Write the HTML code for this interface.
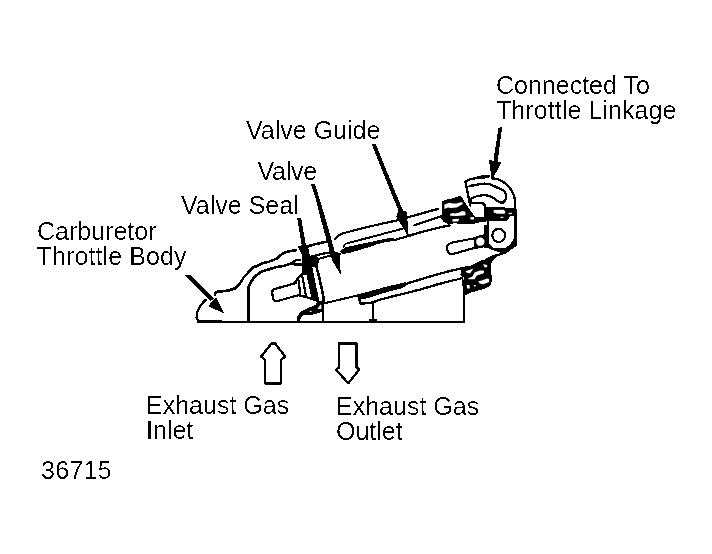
<!DOCTYPE html>
<html><head><meta charset="utf-8"><style>
html,body{margin:0;padding:0;background:#fff;width:712px;height:554px;overflow:hidden}
#w{position:absolute;left:0;top:0;width:712px;height:554px;filter:url(#bin)}
.t{position:absolute;font-family:"Liberation Sans",sans-serif;font-size:25px;line-height:normal;color:#000;white-space:nowrap}
#w>svg{position:absolute;left:0;top:0}
#tx{position:absolute;left:0;top:0;width:712px;height:554px;filter:url(#bint)}
</style></head><body>
<svg width="0" height="0" style="position:absolute"><filter id="bin" x="0" y="0" width="100%" height="100%"><feComponentTransfer><feFuncA type="discrete" tableValues="0 1"/></feComponentTransfer></filter><filter id="bint" x="0" y="0" width="100%" height="100%"><feComponentTransfer><feFuncA type="discrete" tableValues="0 0 0 1 1"/></feComponentTransfer></filter></svg>
<div id="w">
<svg width="712" height="554" viewBox="0 0 712 554">
<g fill="none" stroke="#000" stroke-width="2.3" stroke-linecap="round" stroke-linejoin="round">
<!-- base line -->
<path d="M197.5,322 L464.5,322" stroke-width="2" stroke-linecap="butt"/>
<path d="M198.5,320.5 L222,320.5" stroke-width="1.2" stroke-linecap="butt"/>
<!-- left bump -->
<path d="M206,299.6 L203,302.5 L199.8,306.5 L197.8,310.5 L196.9,313.4 L196.6,317.4 L197.4,319.8 L199,321" stroke-width="2.3"/>
<!-- outer housing curve -->
<path d="M214.9,294.8 L215.7,292.3 L218,291.6 L223.3,291.3 L229.3,290.3 L235.2,288.3 L238,285.8 L241.1,282 L243.6,277.3 L247.9,272.9 L252.2,267.9 L257.3,265.7 L262,263.5 L267.6,262.1 L273.2,260.1 L277.2,258.4 L280,255.6 L283.3,253.1 L287.3,251.7 L292.9,250.6 L295.7,250.3" stroke-width="2.6"/>
<!-- inner housing curve + leg -->
<path d="M248.4,321 L248.4,287.5 L248.6,286.7 L250.8,282.3 L253.7,278 L256.5,275.1 L260.9,272.2 L262,271.6 L267.6,269.7 L273.2,268 L278.9,266.6 L284.5,265.7 L289,264.3 L292.3,262.9" stroke-width="2.6"/>
<path d="M292.3,262.9 L295.7,260.1 L300.2,259.8" stroke-width="2.4"/>
<path d="M292.3,263.3 L295.7,265 L302,264.6 L304,265.2" stroke-width="2.8"/>
<!-- carburetor arrow -->
<polygon points="184.9,275.2 191.1,275.2 214.2,298.5 210.3,301" fill="#000" stroke="none"/>
<polygon points="208.1,306.2 216.2,297 224.2,313.6" fill="#000" stroke="none"/>
<!-- stem rounded rect -->
<path d="M296,283 L275,288.8 C272.5,289.5 271.8,291 272.2,293.5 L273,298.5 C273.5,300.8 275,301.6 277.5,301 L299,295"/>
<!-- collar taper from stem to seal -->
<path d="M293,284 L303.8,272"/>
<path d="M298.6,280.5 L300.3,294.5" stroke-width="2.2"/>
<path d="M299,295.3 L305.6,296.8 L317.5,301"/>
<path d="M302.3,276.5 L305.8,294.8" stroke-width="2.2"/>
<!-- seal main band -->
<polygon points="302.5,256 310.5,256 312.2,266.5 319.2,300.8 311.5,298.8 306.6,275.3 303.6,275 302,270" fill="#000" stroke="none"/>
<!-- valve face edge with rounded corner -->
<path d="M324.3,301 L319.4,278 L316.5,267 C316.2,265 316.5,263 317.8,261" stroke-width="2.6"/>
<polygon points="310.5,256 318.5,257 317.5,262 316,266.5 312.2,266.8" fill="#000" stroke="none"/>
<!-- small top lines left of valve arrow -->
<path d="M308,246.3 L316,244 L327,241.5" stroke-width="2.6"/>
<path d="M309.6,257.2 L323,253.5 L330,252.8" stroke-width="2.3"/>
<path d="M310.2,261.1 L330,255.8" stroke-width="2"/>
<!-- body top edge line1 -->
<path d="M335.3,239 C336.5,236.5 339,234.5 343.4,233.2 L360.3,228.7 L377.1,224.8 L395,220.9 L438,208.9" stroke-width="2.2"/>
<!-- line2 thin -->
<path d="M343.6,247 C344,245.3 344.5,244 346,243.6 L351.8,242 L368.7,237.7 L384.7,233.4 L395,230.8 L402.6,228.8" stroke-width="2"/>
<path d="M414.4,225.3 L442.2,216.1" stroke-width="2.1"/>
<!-- line3 thick band -->
<polygon points="340.5,250.5 345.5,247.3 385.5,238.8 393,237.8 395.5,239.5 395,240.6 385.5,242.2 377.1,244.3 368.7,247.2 360.3,249.7 351.8,252.3 343.4,254 340.3,252.6" fill="#000" stroke="none"/>
<path d="M394,240.3 L409.4,235.6 L423.7,231.4 L440.5,227.2 L449.8,225.3" stroke-width="2.2"/>
<!-- body bottom edge -->
<path d="M323.5,303.5 L359.5,295" stroke-width="2.2"/>
<polygon points="359.6,294 370.4,290.9 385.9,286.7 401.3,283.2 406,282.1 405.6,285.8 402.9,288 389.7,291.2 378.2,294.7 367.4,298.2 362.5,299.5 359.6,297" fill="#000" stroke="none"/>
<path d="M404,284.6 L409.8,282.6 L429.5,276.6 L449.2,271.2 L463.9,267.8 L470,267" stroke-width="2.3"/>
<path d="M484,261.2 L489,258.3 L494.1,256.1 L499.2,254.6 L505,252.5" stroke-width="2.4"/>
<polygon points="484,245.4 488,242.5 491.6,246.1 494.1,247.9 505.7,247.9 510.3,244.1 512.3,241 514.3,238 516.2,238 516.2,246.6 512.3,248.8 508.3,251.8 504.2,253.4 498.2,251.8 491.6,249.8 488,247.8 484,247.8" fill="#000" stroke="none"/>
<!-- lower thin line -->
<path d="M359.3,296.5 L359.9,303.4 L363,303.6 L372.8,302.4 L378.2,300.2 L393.6,296.2 L400,294.6 L419.7,289.6 L439.3,283.9 L459,279 L463,277.2" stroke-width="2.3"/>
<!-- legs -->
<path d="M323,300 L323.1,321"/>
<path d="M373.2,302.5 L373.2,321"/>
<path d="M370,320 L376,320" stroke-width="2"/>
<path d="M463.6,272 L464,321"/>
<!-- port curve under seal -->
<polygon points="297,321.3 297.5,316 299.6,313 302.5,310.5 306.6,308.6 310.7,307 315.2,305 317,302.5 318.5,301 322.5,301.5 322.5,312 319.3,312.8 311.7,315 304.1,315 301.6,316.8 300.5,319 300.3,321.3" fill="#000" stroke="none"/>
<polygon points="317.4,309 320.6,304.6 321.3,304.9 321.3,309" fill="#fff" stroke="none"/>
<rect x="309.7" y="310.9" width="2" height="1" fill="#fff" stroke="none"/>
<!-- valve seal arrow -->
<polygon points="297.2,218.2 301.1,218.2 305.6,243.2 306,247 301.8,247 301.4,243.2" fill="#000" stroke="none"/>
<polygon points="297.9,246.2 305.6,244.5 308,247 310,257 302.8,257" fill="#000" stroke="none"/>
<!-- valve arrow -->
<polygon points="311,184 314.8,184 319.9,200 326.4,221.7 332.4,243.3 334.8,252 341.8,253.3 339.9,256 340.4,269 340.8,274.8 336.4,267.4 332.8,261.6 330.7,256.6 327.5,243.3 321.5,221.7 316.1,200" fill="#000" stroke="none"/>
<!-- valve guide arrow -->
<polygon points="371.8,144.2 375.8,144.2 393.6,188 403,210.6 406.8,211.7 408.6,235.6 407.6,235.6 396.3,216.4 398.5,210.6 389.1,188" fill="#000" stroke="none"/>
<!-- connected to arrow -->
<path d="M498.4,128.5 Q500,126.6 502,127.5 L497.6,161.5 L493.4,160.5 Z" fill="#000" stroke="none"/>
<polygon points="489,160 501.6,162.5 492.8,178.3 491.6,178.3" fill="#000" stroke="none"/>
<!-- bracket top piece -->
<path d="M465,182 L468,179.8 L480,177.2 L487.5,176.6" stroke-width="2.2"/>
<path d="M479,177.8 L488,176.3" stroke-width="3.5"/>
<path d="M491.6,178.3 C495,178.3 499,179 503.3,181.9 C506,183.5 509,187 511.4,190 C513,192.5 514.5,196 515.3,201 L515.5,246"/>
<path d="M465.5,182 L469.2,200.5 L470.2,205.5"/>
<path d="M469.5,186 L483.5,183.7 C486,183.5 488,183.6 489.8,184.2 C493,185.5 495,186.5 497.9,187.8 C501,189.2 503,190 504.2,191.2 C506,193 506.5,196 505.5,199.5 C504.5,202 502.5,203 500.5,202.5 C498.5,201.8 496,200 494.3,198.5 C492.5,197.2 490.5,196.2 488,195.6 C486,195 484,195 481.5,195.3 C478,195.7 474,196.8 471.7,198.2 C470,199.5 470,202 472.6,203.1 L481.7,203.1 C483.5,203.3 484.5,204.5 485,206 L485.5,216"/>
<!-- collar band on bracket -->
<polygon points="484,207 493,207 494,206.8 503,206.8 505,207.5 516,207.8 516.2,215.8 510,216 508.5,219 507,221.3 489,221.3 486,220.3 484,218" fill="#000" stroke="none"/>
<polygon points="493.7,210 503.5,209.8 505.5,211.8 504.5,213.7 497,213.7 495,212.8 493.7,212.8" fill="#fff" stroke="none"/>
<rect x="508.7" y="212.8" width="3.2" height="1.3" fill="#fff" stroke="none"/>
<rect x="500.4" y="216.8" width="3" height="1.1" fill="#fff" stroke="none"/>
<polygon points="473,216.6 486,217.2 486,221.5 474,223.2" fill="#000" stroke="none"/>
<!-- lug with hole -->
<path d="M487.8,216.5 L487.8,243"/>
<circle cx="498.7" cy="235.4" r="6.45" stroke-width="2.2"/>
<!-- slot -->
<path d="M473.5,238.5 L453.5,242.3 C450.5,243 448.5,244 447.2,246.2 C446.3,248.2 446.8,250.5 448.5,252.4 C449.5,253.7 451,254.5 453,254.1 L474,248" stroke-width="2.1"/>
<polygon points="473.3,237.2 485,233.7 487.8,234 487.8,245.6 474.3,248.8" fill="#000" stroke="none"/>
<circle cx="480.3" cy="241.8" r="4.2" fill="#fff" stroke="none"/>
<path d="M485.5,226 L485.5,234"/>
<path d="M474.5,248 L482,246.6 L489.2,245"/>
<!-- left nut (upper) -->
<polygon points="442.2,201.6 444,200.6 448,199.3 452.3,198.6 455.2,197.6 459.5,195.8 461.5,196.4 465.3,203 469,208.8 473.5,214.5 475.2,216.8 475.2,223.8 466,224.6 455,223.2 448,224 443.5,222 441,217.8 442.2,215" fill="#000" stroke="none"/>
<polygon points="444.4,204.6 449.4,202.8 453,203.5 456.7,203.4 459.5,202.4 462.6,202.3 462.6,204 460.3,205.4 456.7,207.4 453.8,207.8 450.9,208.1 448,207.4 444.4,208.9" fill="#fff" stroke="none"/>
<polygon points="450.2,213.9 452.3,213.1 455,213.5 459.5,212.4 462.4,211 465.3,211.8 465.5,215.3 456.7,216.1 450.2,215.8" fill="#fff" stroke="none"/>
<polygon points="452.5,219.2 458.8,218.7 458.6,221.2 452.5,221.8" fill="#fff" stroke="none"/>
<polygon points="470.4,217.1 474,217.1 474,219.5 470.4,219.5" fill="#fff" stroke="none"/>
<!-- lower nut -->
<polygon points="460.2,274.8 462.3,267.8 471,265.4 476,263.2 479.7,261.1 482.6,260 486.9,260.3 489.1,258.9 494.1,256 496,257.5 492,261 490.5,266.8 491.2,274 492,277.7 491.2,284.2 488.3,287 483.3,289.2 477.5,290.7 472.5,292.1 468.8,293.6 465.5,295 463.8,289.2 462.3,283.5 462.3,276" fill="#000" stroke="none"/>
<polygon points="482.9,264.3 486.2,264.7 487.6,266.1 486.2,267.6 484.7,267.2" fill="#fff" stroke="none"/>
<polygon points="465.5,271.2 473.5,268.4 470,273.5 466.8,272.8" fill="#fff" stroke="none"/>
<polygon points="468.1,278.4 472.5,276.5 474.6,272.6 479.7,270.5 483.5,270.4 484.2,272 483.3,273.5 476.8,275.6 474.6,279.2 468.1,279.3" fill="#fff" stroke="none"/>
<polygon points="478.2,281.3 481.8,280.6 486.9,278.4 489.1,279.1 489.1,282 483.3,284.2 479.7,283.5" fill="#fff" stroke="none"/>
<polygon points="466.7,285 469.5,285 469.9,288.5 467.2,288.5" fill="#fff" stroke="none"/>
<polygon points="473.9,285 475.7,285 475.7,286.5 474,286.5" fill="#fff" stroke="none"/>
<polygon points="463,277 463.9,277 463.9,279.8 463,279.8" fill="#fff" stroke="none"/>
<!-- up exhaust arrow -->
<path d="M265,383.3 L281.2,383.3 L281.2,359.8 L285.2,356.5 L274.8,343.3 L271.5,343.5 L261.2,356.5 L265,359.8 Z" stroke-width="2.4"/>
<!-- down exhaust arrow -->
<path d="M339.2,343.3 L356.4,343.3 L356.4,367.5 L359.3,369.5 L348.3,383.3 L336,369.8 L339.2,367.5 Z" stroke-width="2.4"/>
</g>
</svg>

<div id="tx">
<div class="t" style="left:496px;top:71px">Connected To</div>
<div class="t" style="left:496px;top:96px;letter-spacing:0.08px">Throttle Linkage</div>
<div class="t" style="left:246px;top:115.5px">Valve Guide</div>
<div class="t" style="left:257.6px;top:156.5px;letter-spacing:-0.3px">Valve</div>
<div class="t" style="left:181px;top:190.7px">Valve Seal</div>
<div class="t" style="left:37px;top:216.8px">Carburetor</div>
<div class="t" style="left:36.6px;top:242px;letter-spacing:0.1px">Throttle Body</div>
<div class="t" style="left:146px;top:390.6px">Exhaust Gas</div>
<div class="t" style="left:146px;top:416.3px">Inlet</div>
<div class="t" style="left:336px;top:392.3px">Exhaust Gas</div>
<div class="t" style="left:336px;top:417px">Outlet</div>
<div class="t" style="left:41px;top:456px;letter-spacing:0.3px">36715</div>
</div>
</div>
</body></html>
